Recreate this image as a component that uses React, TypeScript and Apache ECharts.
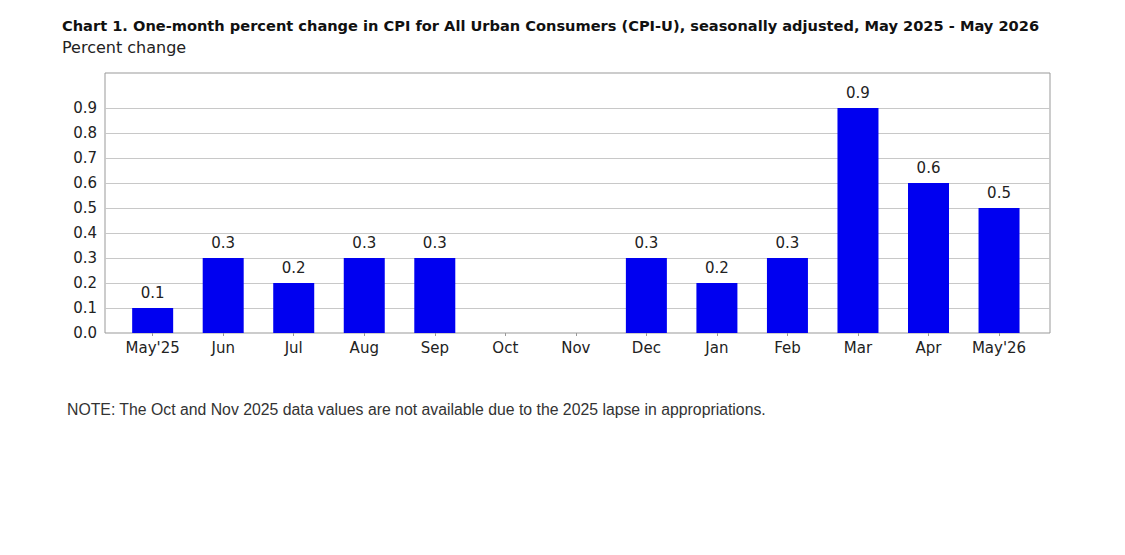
import React, { useEffect, useRef } from "react";
import * as echarts from "echarts";

const categories = ["May'25", "Jun", "Jul", "Aug", "Sep", "Oct", "Nov", "Dec", "Jan", "Feb", "Mar", "Apr", "May'26"];
const values: (number | null)[] = [0.1, 0.3, 0.2, 0.3, 0.3, null, null, 0.3, 0.2, 0.3, 0.9, 0.6, 0.5];
const gridValues = [0.1, 0.2, 0.3, 0.4, 0.5, 0.6, 0.7, 0.8, 0.9];

const titleText = "Chart 1. One-month percent change in CPI for All Urban Consumers (CPI-U), seasonally adjusted, May 2025 - May 2026";
const subtitleText = "Percent change";
const noteText = "NOTE: The Oct and Nov 2025 data values are not available due to the 2025 lapse in appropriations.";

const FONT = "'DejaVu Sans', Verdana, sans-serif";
const NOTE_FONT = "'Liberation Sans', Arial, sans-serif";

export default function App() {
  const ref = useRef<HTMLDivElement>(null);
  useEffect(() => {
    if (!ref.current) return;
    const chart = echarts.init(ref.current, null, { renderer: "svg" });
    const yCommon = { type: "value", min: 0, max: 1.04, interval: 0.1 };
    chart.setOption({
      animation: false,
      backgroundColor: "#fff",
      textStyle: { fontFamily: FONT },
      title: [
        {
          text: titleText,
          left: 57,
          top: 13,
          textStyle: { fontSize: 14.6, fontWeight: "bold", color: "#111", fontFamily: FONT },
        },
        {
          text: subtitleText,
          left: 57,
          top: 34,
          textStyle: { fontSize: 16, fontWeight: "normal", color: "#222", fontFamily: FONT },
        },
      ],
      graphic: [
        {
          type: "text",
          left: 67,
          top: 401,
          style: { text: noteText, fontSize: 15.8, fill: "#333", fontFamily: NOTE_FONT },
        },
      ],
      grid: [
        {
          left: 105,
          right: 75,
          top: 73,
          bottom: 222,
          containLabel: false,
          show: true,
          borderColor: "#999",
          borderWidth: 1,
          backgroundColor: "#fff",
        },
        {
          left: 117.4,
          right: 90.7,
          top: 73,
          bottom: 222,
          containLabel: false,
        },
      ],
      xAxis: [
        { type: "value", gridIndex: 0, min: 0, max: 1, show: false },
        {
          type: "category",
          gridIndex: 1,
          data: categories,
          axisLine: { show: false },
          axisTick: { show: true, alignWithLabel: true, length: 3, lineStyle: { color: "#999" } },
          axisLabel: { fontSize: 15, color: "#222", margin: 7, fontFamily: FONT },
          splitLine: { show: false },
        },
      ],
      yAxis: [
        {
          ...yCommon,
          gridIndex: 0,
          axisLine: { show: false },
          axisTick: { show: false },
          splitLine: { show: false },
          axisLabel: {
            fontSize: 15,
            color: "#222",
            margin: 8,
            fontFamily: FONT,
            formatter: (v: number) => (v > 0.95 ? "" : v.toFixed(1)),
          },
        },
        { ...yCommon, gridIndex: 1, show: false },
      ],
      series: [
        {
          type: "line",
          xAxisIndex: 0,
          yAxisIndex: 0,
          data: [],
          z: 1,
          silent: true,
          markLine: {
            z: 1,
            silent: true,
            symbol: "none",
            label: { show: false },
            lineStyle: { color: "#c8c8c8", type: "solid", width: 1 },
            data: gridValues.map((v) => ({ yAxis: v })),
          },
        },
        {
          type: "bar",
          xAxisIndex: 1,
          yAxisIndex: 1,
          data: values.map((v) => (v === null ? "-" : v)),
          barWidth: 41,
          z: 3,
          itemStyle: { color: "#0000f0" },
          label: {
            show: true,
            position: "top",
            distance: 7,
            fontSize: 15,
            color: "#222",
            fontFamily: FONT,
            backgroundColor: "#fff",
            padding: [1, 6, 1, 6],
            formatter: (p: any) => Number(p.value).toFixed(1),
          },
        },
      ],
    });
    return () => chart.dispose();
  }, []);
  return <div ref={ref} style={{ position: "fixed", left: 0, top: 0, width: 1125, height: 555 }} />;
}
